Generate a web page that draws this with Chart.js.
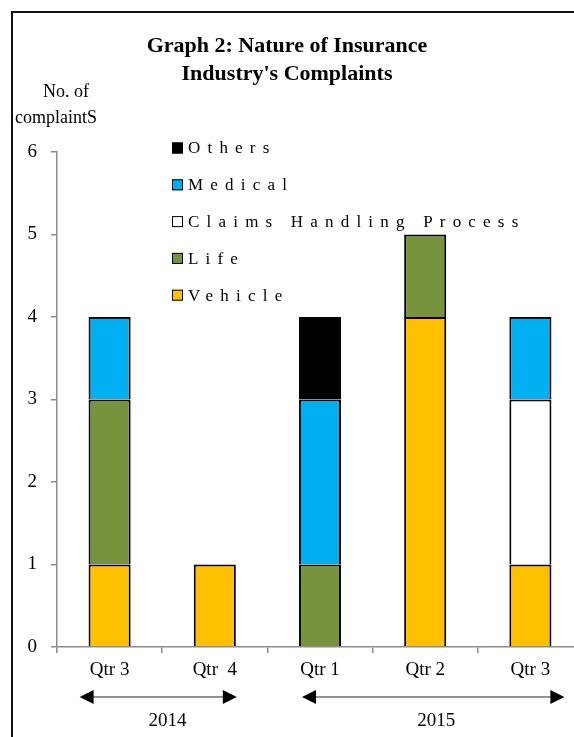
<!DOCTYPE html>
<html>
<head>
<meta charset="utf-8">
<script src="https://cdn.jsdelivr.net/npm/chart.js@4.4.1/dist/chart.umd.min.js"></script>
<style>
  html, body { margin: 0; padding: 0; background: #fff; overflow: hidden; }
  #frame {
    position: absolute; left: 11px; top: 11px;
    width: 700px; height: 800px;
    border: 2px solid #111;
  }
  #wrap { position: absolute; left: 0; top: 0; width: 600px; height: 737px; }
</style>
</head>
<body>
<div id="frame"></div>
<div id="wrap"><canvas id="complaintsChart"></canvas></div>
<script>
  // quarters on the x axis
  const quarters = ["Qtr 3", "Qtr  4", "Qtr 1", "Qtr 2", "Qtr 3"];
  const years = ["2014", "2015"];
  const yearFirst = [0, 2];
  const yearLast = [1, 4];

  // complaints per category (stack order bottom -> top)
  const vehicle = [1, 1, 0, 4, 1];
  const life = [2, 0, 1, 1, 0];
  const claims = [0, 0, 0, 0, 2];
  const medical = [1, 0, 2, 0, 1];
  const others = [0, 0, 1, 0, 0];

  const yTicks = [0, 1, 2, 3, 4, 5, 6];

  const SERIF = "'Liberation Serif', 'Times New Roman', serif";
  const AXIS_GREY = "#8c8c8c";

  function series(label, data, color) {
    return {
      label,
      data,
      backgroundColor: color,
      borderColor: "#000",
      // no bottom edge so joins stay single width; empty segments get none
      borderWidth: (c) => (c.raw ? { top: 2, left: 2, right: 2, bottom: 0 } : 0),
      borderSkipped: false,
      barPercentage: 0.4,
      categoryPercentage: 1,
    };
  }

  // title, axis caption, legend, year arrows
  const decorations = {
    id: "decorations",
    afterDraw(chart) {
      const ctx = chart.ctx;
      const area = chart.chartArea;
      const x = chart.scales.x;

      ctx.save();
      ctx.fillStyle = "#000";
      ctx.textAlign = "center";
      ctx.textBaseline = "middle";
      ctx.font = "bold 22px " + SERIF;
      ctx.fillText("Graph 2: Nature of Insurance", 287, 46);
      ctx.fillText("Industry's Complaints", 287, 74);

      ctx.font = "18px " + SERIF;
      ctx.fillText("No. of", 66, 92);
      ctx.fillText("complaintS", 56, 118);

      // legend, top entry is the last dataset
      ctx.textAlign = "left";
      ctx.font = "17px " + SERIF;
      ctx.letterSpacing = "7.2px";
      const items = chart.data.datasets.slice().reverse();
      items.forEach((ds, i) => {
        const cy = area.top - 4 + i * 36.8;
        ctx.fillStyle = ds.backgroundColor;
        ctx.fillRect(area.left + 115, cy - 5.5, 11, 11);
        ctx.strokeStyle = "#000";
        ctx.lineWidth = 1;
        ctx.strokeRect(area.left + 115.5, cy - 5, 10, 10);
        ctx.fillStyle = "#000";
        ctx.fillText(ds.label, area.left + 131, cy + 1);
      });
      ctx.letterSpacing = "0px";

      // year ranges with double-headed arrows
      const arrowY = 697;
      const starts = [-30, -18];
      const ends = [22, 34];
      const labelShift = [58, 11];
      years.forEach((yr, i) => {
        const x0 = x.getPixelForValue(yearFirst[i]) + starts[i];
        const x1 = x.getPixelForValue(yearLast[i]) + ends[i];
        ctx.strokeStyle = "#6e6e6e";
        ctx.lineWidth = 1.5;
        ctx.beginPath();
        ctx.moveTo(x0 + 10, arrowY);
        ctx.lineTo(x1 - 10, arrowY);
        ctx.stroke();
        ctx.fillStyle = "#000";
        ctx.beginPath();
        ctx.moveTo(x0, arrowY);
        ctx.lineTo(x0 + 14, arrowY - 7);
        ctx.lineTo(x0 + 14, arrowY + 7);
        ctx.closePath();
        ctx.fill();
        ctx.beginPath();
        ctx.moveTo(x1, arrowY);
        ctx.lineTo(x1 - 14, arrowY - 7);
        ctx.lineTo(x1 - 14, arrowY + 7);
        ctx.closePath();
        ctx.fill();

        ctx.textAlign = "center";
        ctx.font = "19px " + SERIF;
        const lx = x.getPixelForValue(yearFirst[i] + (i === 0 ? 0 : 1)) + labelShift[i];
        ctx.fillText(yr, lx, 721);
      });
      ctx.restore();
    },
  };

  new Chart(document.getElementById("complaintsChart"), {
    type: "bar",
    data: {
      labels: quarters,
      datasets: [
        series("Vehicle", vehicle, "#ffc000"),
        series("Life", life, "#77933c"),
        series("Claims Handling Process", claims, "#ffffff"),
        series("Medical", medical, "#00b0f0"),
        series("Others", others, "#000000"),
      ],
    },
    options: {
      responsive: true,
      maintainAspectRatio: false,
      animation: false,
      layout: {
        padding: { left: 0, top: 152, right: 17, bottom: 0 },
      },
      plugins: {
        legend: { display: false },
        title: { display: false },
        tooltip: { enabled: false },
      },
      scales: {
        x: {
          stacked: true,
          afterFit: (scale) => { scale.height = 90; },
          grid: {
            display: true,
            drawOnChartArea: false,
            offset: true,
            tickLength: 6,
            color: AXIS_GREY,
            lineWidth: 1.5,
          },
          border: { display: true, color: AXIS_GREY, width: 1.5 },
          ticks: {
            color: "#000",
            padding: 6,
            maxRotation: 0,
            font: { family: SERIF, size: 19 },
          },
        },
        y: {
          stacked: true,
          min: yTicks[0],
          max: yTicks[yTicks.length - 1],
          afterFit: (scale) => { scale.width = 57; },
          afterBuildTicks: (scale) => {
            scale.ticks = yTicks.map((v) => ({ value: v }));
          },
          grid: {
            display: true,
            drawOnChartArea: false,
            tickLength: 6,
            color: AXIS_GREY,
            lineWidth: 1.5,
          },
          border: { display: true, color: AXIS_GREY, width: 1.5 },
          ticks: {
            color: "#000",
            padding: 14,
            font: { family: SERIF, size: 19 },
          },
        },
      },
    },
    plugins: [decorations],
  });
</script>
</body>
</html>
